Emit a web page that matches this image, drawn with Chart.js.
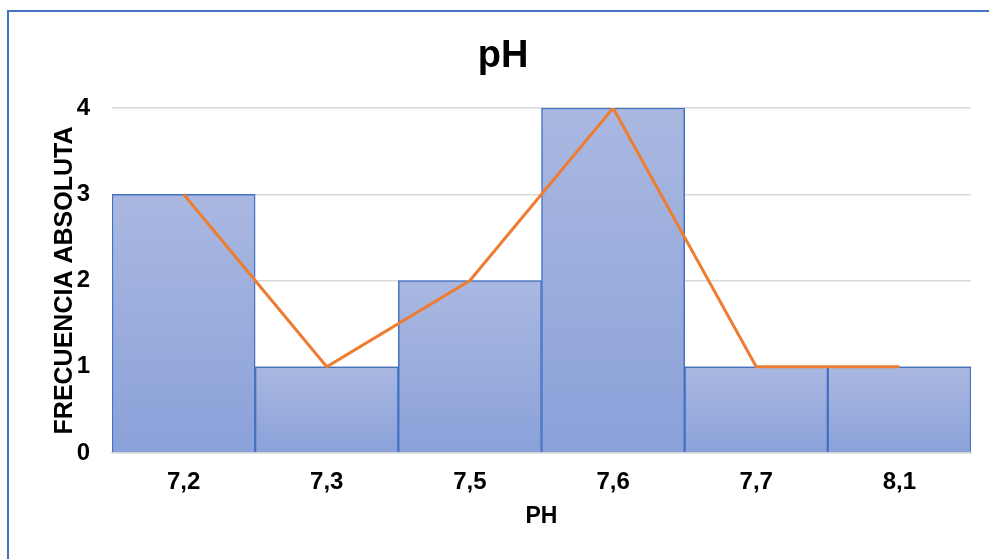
<!DOCTYPE html>
<html>
<head>
<meta charset="utf-8">
<script src="https://cdn.jsdelivr.net/npm/chart.js@4"></script>
<style>
  html, body { margin: 0; padding: 0; background: #fff; overflow: hidden; }
  #wrap { position: relative; width: 989px; height: 559px; }
  #frame { position: absolute; left: 7px; top: 10px; width: 1100px; height: 700px; border: 2px solid #4472C4; box-sizing: border-box; }
  canvas { position: absolute; left: 0; top: 0; }
</style>
</head>
<body>
<div id="wrap">
  <div id="frame"></div>
  <canvas id="chart" width="989" height="559"></canvas>
</div>
<script>
// Chart data
const categories = ['7,2', '7,3', '7,5', '7,6', '7,7', '8,1'];
const frequencies = [3, 1, 2, 4, 1, 1];
const yTicks = [0, 1, 2, 3, 4];

const FONT = "'Liberation Sans', Arial, sans-serif";

// vertical gradient per bar, lighter on top
function barGradient(ctx) {
  const chart = ctx.chart;
  if (!chart.chartArea || ctx.type !== 'data') return '#98ACDD';
  const y = chart.scales.y;
  const top = y.getPixelForValue(frequencies[ctx.dataIndex]);
  const bottom = y.getPixelForValue(0);
  const g = chart.ctx.createLinearGradient(0, top, 0, bottom);
  g.addColorStop(0, '#AAB8E1');
  g.addColorStop(1, '#8AA1D9');
  return g;
}

// left padding + narrower y axis so the title centres near x=503 like the original
new Chart(document.getElementById('chart').getContext('2d'), {
  data: {
    labels: categories,
    datasets: [
      { type: 'line', data: frequencies, borderColor: '#ED7D31', borderWidth: 3, pointRadius: 0, tension: 0, order: 0 },
      { type: 'bar', data: frequencies, backgroundColor: barGradient, borderColor: '#4472C4', borderWidth: 1.5,
        categoryPercentage: 1, barPercentage: 1, order: 1 }
    ]
  },
  options: {
    responsive: false,
    animation: false,
    layout: { padding: { left: 35, right: 18, top: 0, bottom: 0 } },
    plugins: {
      legend: { display: false },
      tooltip: { enabled: false },
      title: { display: true, text: 'pH', color: '#000', font: { family: FONT, size: 38, weight: 'bold' }, padding: { top: 34, bottom: 28.4 } }
    },
    scales: {
      x: {
        grid: { display: false, drawTicks: false },
        border: { display: true, color: '#D9D9D9', width: 1.5 },
        ticks: { color: '#000', padding: 15, font: { family: FONT, size: 24, weight: 'bold' } },
        title: { display: true, text: 'PH', color: '#000', padding: { top: 0, bottom: 29 }, font: { family: FONT, size: 23, weight: 'bold' } },
        afterFit: s => { s.height = 106; }
      },
      y: {
        min: 0, max: 4,
        afterBuildTicks: s => { s.ticks = yTicks.map(v => ({ value: v })); },
        grid: { color: '#D9D9D9', lineWidth: 1.5, drawTicks: false },
        border: { display: false },
        ticks: { color: '#000', padding: 22, font: { family: FONT, size: 24, weight: 'bold' } },
        title: { display: true, text: 'FRECUENCIA ABSOLUTA', color: '#000', padding: { top: 15, bottom: 0 }, font: { family: FONT, size: 25, weight: 'bold' } },
        afterFit: s => { s.width = 77; }
      }
    }
  }
});
</script>
</body>
</html>
